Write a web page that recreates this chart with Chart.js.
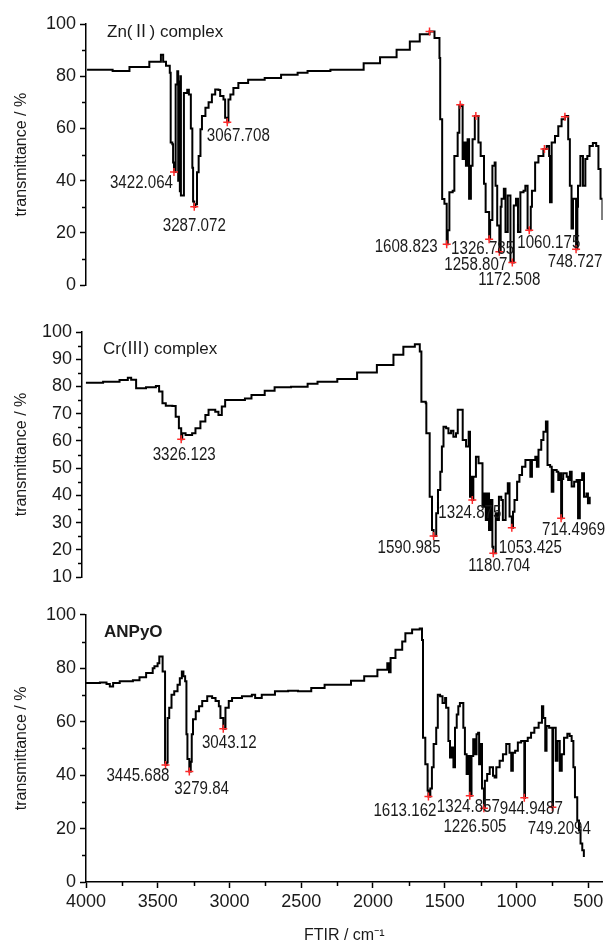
<!DOCTYPE html>
<html>
<head>
<meta charset="utf-8">
<script src="https://cdn.jsdelivr.net/npm/chart.js@4.4.1/dist/chart.umd.min.js"></script>
<style>
  body { margin: 0; background: #fff; }
  .panel { position: absolute; left: 0; }
</style>
</head>
<body>
<canvas id="znChart" class="panel" width="608" height="300" style="top:0"></canvas>
<canvas id="crChart" class="panel" width="608" height="300" style="top:300px"></canvas>
<canvas id="anpyoChart" class="panel" width="608" height="347" style="top:600px"></canvas>
<script>
// ---- Zn(II) complex spectrum (wavenumber cm-1, transmittance %) ----
const znWavenumber = [4000, 3915, 3830, 3718, 3586, 3509, 3494, 3475, 3450, 3444, 3433, 3428, 3422.064, 3411, 3400, 3394, 3389, 3383, 3379, 3376, 3367, 3356, 3334, 3323, 3310, 3300, 3295, 3287.072, 3280, 3269, 3258, 3246, 3236, 3213, 3192, 3170, 3148, 3126, 3115, 3093, 3082, 3067.708, 3060, 3047, 3027, 2994, 2929, 2819, 2710, 2600, 2534, 2382, 2161, 2052, 1942, 1854, 1788, 1723, 1690, 1657, 1652, 1639, 1624, 1608.823, 1602, 1591, 1569, 1558, 1536, 1525, 1519, 1510, 1503, 1493, 1481, 1470, 1460, 1448, 1437, 1422, 1404, 1398, 1383, 1361, 1350, 1326.785, 1320, 1305, 1290, 1284, 1273, 1258.807, 1250, 1244, 1229, 1218, 1203, 1185, 1172.508, 1163, 1148, 1135, 1119, 1098, 1086, 1071, 1060.175, 1050, 1042, 1021, 999, 966, 944, 928, 922, 911, 889, 867, 845, 823, 819, 801, 790, 779, 769, 748.727, 740, 736, 720, 703, 687, 674, 659, 637, 615, 600, 586, 573];
const znTransmittance = [82.5, 82.5, 82, 83.5, 85.5, 88.2, 85.5, 84, 81.3, 54.6, 54, 47, 43.3, 76.8, 81.9, 40, 78, 36, 80, 34.3, 34.3, 73.6, 74.8, 73, 60, 45, 32, 30.0, 31, 43.2, 49.5, 59.7, 64.8, 67.9, 70, 73, 74.9, 74.7, 72.4, 71.1, 64.1, 62.4, 71.1, 73, 75.5, 77.4, 78.7, 79.3, 80.6, 81.3, 82, 82.5, 85, 87.3, 90.1, 93.3, 96.1, 97.1, 94.6, 87, 63.5, 33, 31.2, 15.7, 21, 35.6, 36.2, 49.5, 58.4, 68.6, 69.1, 68.6, 48.3, 54.6, 45.7, 55.9, 33.1, 45.7, 55.9, 64.8, 64.8, 54.6, 49.5, 38.8, 28, 17.6, 25, 45.7, 47, 38.1, 22.9, 12.8, 30, 33.1, 36.9, 20.4, 34.3, 9, 8.7, 30.5, 33.1, 20.4, 35.6, 36.2, 38.1, 21.7, 21.0, 30, 36.2, 47, 49.5, 52.1, 53.3, 49.5, 31.8, 54.6, 57.1, 60.9, 63.5, 64.5, 64.8, 55.9, 38.1, 21.7, 33.1, 13.8, 30, 38.1, 49.5, 38.1, 48.3, 49.5, 53.3, 54.4, 53.3, 44.5, 33.1, 25];
const znPeakLabels = ['3422.064', '3287.072', '3067.708', '1608.823', '1326.785', '1258.807', '1172.508', '1060.175', '748.727'];
const znPeakT = [43.3, 30.0, 62.4, 15.7, 17.6, 12.8, 8.7, 21.0, 13.8];
const znBandWavenumber = [1723, 1519, 1415, 959, 823];
const znBandT = [97.1, 69.1, 64.8, 52.1, 64.5];

// ---- Cr(III) complex spectrum ----
const crWavenumber = [3981, 3863, 3750, 3693, 3670, 3636, 3568, 3500, 3478, 3455, 3432, 3387, 3364, 3342, 3326.123, 3319, 3296, 3251, 3228, 3194, 3160, 3138, 3092, 3070, 3047, 3024, 2933, 2888, 2843, 2752, 2684, 2571, 2457, 2389, 2253, 2117, 1981, 1867, 1799, 1720, 1686, 1675, 1645, 1641, 1618, 1602, 1590.985, 1573, 1561, 1545, 1534, 1523, 1505, 1489, 1471, 1455, 1437, 1425, 1402, 1391, 1368, 1350, 1341, 1328, 1324.875, 1318, 1300, 1282, 1266, 1255, 1244, 1232, 1221, 1210, 1198, 1187, 1180.704, 1164, 1153, 1142, 1126, 1115, 1096, 1081, 1069, 1053.425, 1045, 1035, 1017, 1001, 983, 960, 938, 926, 915, 892, 881, 870, 851, 836, 819, 808, 790, 779, 768, 745, 734, 722, 714.4969, 708, 700, 676, 666, 654, 642, 625, 608, 598, 586, 570, 557, 540, 530, 518];
const crTransmittance = [81.4, 81.7, 82.4, 83.2, 82.5, 79.3, 79.7, 80.2, 78.1, 73.8, 72.9, 72.8, 68.9, 64.6, 60.6, 62.8, 62.2, 62.8, 64.6, 67.1, 69.5, 71.4, 70.7, 69.5, 72.6, 75, 75, 75.6, 76.9, 78.4, 79.7, 79.9, 81, 81.7, 82.7, 85.1, 87.9, 91.6, 94.6, 95.5, 92.8, 74.4, 73.8, 62.8, 39.5, 27.3, 25.1, 33.4, 42, 48.7, 57.9, 65.2, 64.6, 62.8, 63.7, 61.5, 62.8, 71.4, 71.4, 60.3, 57.9, 63.4, 39.5, 46.8, 38.3, 46.8, 54.2, 51.8, 51.8, 35.8, 40.7, 30.9, 40.7, 27.3, 38.3, 21.1, 18.7, 33.4, 30.9, 39.5, 38.3, 30.9, 40.7, 44.4, 32.2, 28.1, 34, 38.3, 45, 47.5, 50.5, 53, 53, 46.8, 53, 54.2, 50.5, 56.7, 60.3, 63.4, 67.1, 51.1, 50.5, 41.3, 49.3, 48.7, 45.6, 48.1, 31.6, 46, 48.1, 46.8, 45.6, 48.7, 43.2, 45, 45.6, 31.6, 45.6, 48.1, 39.5, 40.7, 37.1, 39.5];
const crPeakLabels = ['3326.123', '1590.985', '1324.875', '1180.704', '1053.425', '714.4969'];
const crPeakT = [60.6, 25.1, 38.3, 18.7, 28.1, 31.6];

// ---- ANPyO spectrum ----
const anpyoWavenumber = [4000, 3903, 3857, 3834, 3811, 3765, 3673, 3627, 3581, 3535, 3523, 3501, 3489, 3470, 3466, 3449, 3445.688, 3438, 3431, 3420, 3404, 3385, 3362, 3346, 3332, 3321, 3309, 3300, 3293, 3279.84, 3270, 3263, 3254, 3235, 3212, 3190, 3155, 3121, 3097, 3074, 3063, 3043.12, 3028, 3005, 2982, 2913, 2844, 2821, 2775, 2683, 2591, 2522, 2430, 2337, 2153, 2061, 1969, 1900, 1888, 1877, 1843, 1796, 1774, 1727, 1674, 1658, 1651, 1635, 1619, 1613.162, 1600, 1589, 1577, 1559, 1548, 1532, 1515, 1497, 1490, 1474, 1463, 1451, 1439, 1428, 1416, 1405, 1394, 1370, 1359, 1347, 1336, 1324.857, 1313, 1301, 1290, 1278, 1267, 1260, 1251, 1240, 1226.505, 1220, 1204, 1186, 1163, 1152, 1140, 1117, 1094, 1071, 1048, 1036, 1025, 1009, 990, 967, 944.9487, 940, 921, 898, 875, 845, 822, 813, 799, 790, 772, 753, 749.2094, 745, 730, 726, 714, 698, 684, 668, 645, 629, 615, 603, 592, 576, 564, 553, 541, 530];
const anpyoTransmittance = [74.5, 74.7, 74.1, 73.2, 74.5, 75.1, 75.5, 76.6, 78.2, 80, 80.7, 81.9, 84.4, 84.4, 78.8, 44.7, 43.8, 44.7, 61.4, 65.2, 70.1, 71.4, 73.8, 76.3, 78.8, 77, 75.1, 55.3, 46, 41.4, 45, 55.3, 60.9, 63.9, 65.8, 67.7, 69.5, 68.9, 67.7, 65.8, 61.4, 57.4, 65.2, 67.7, 68.9, 69.5, 70.1, 68.9, 70.1, 71.4, 71.6, 71.4, 72.6, 73.8, 75.3, 77, 79.4, 81.9, 78.5, 83.8, 86.9, 90, 93.1, 94.5, 94.9, 90.6, 54, 44.1, 34.2, 32, 35, 42.9, 51.6, 57.7, 70.1, 69.5, 67, 68.9, 65.2, 52.8, 46.6, 50.3, 42.9, 57.7, 62.7, 65.8, 67, 57.7, 47.8, 40.4, 47.2, 32.3, 47.2, 53.4, 47.8, 55.3, 55.9, 44.1, 51.6, 35, 27.6, 37.9, 40.4, 42.9, 39.8, 39.1, 42.9, 45.4, 47.8, 51.6, 48.4, 41.6, 48.4, 49.1, 52.2, 52.8, 31.5, 52.8, 54, 55.9, 57.7, 59.6, 65.8, 61.4, 49.1, 58.4, 57.7, 57.7, 28, 57.7, 57.7, 45.4, 52.8, 41.6, 47.8, 54, 55.5, 54.6, 52.8, 42.9, 31.7, 23, 19.3, 14.4, 11.9, 9.4];
const anpyoPeakLabels = ['3445.688', '3279.84', '3043.12', '1613.162', '1324.857', '1226.505', '944.9487', '749.2094'];
const anpyoPeakT = [43.8, 41.4, 57.4, 32.0, 32.3, 27.6, 31.5, 28.0];

// labelled wavenumber ticks on the shared bottom axis
const xTickValues = [4000, 3500, 3000, 2500, 2000, 1500, 1000, 500];

const FAMILY = '"Liberation Sans", Arial, "Noto Sans CJK SC", sans-serif';
Chart.defaults.font.family = FAMILY;
Chart.defaults.color = '#1a1a1a';

const toPoints = (xs, ys) => xs.map((x, i) => ({ x, y: ys[i] }));

// short ticks between the labelled ones, plus the peak numbers and the panel name
const panelDecor = {
  id: 'panelDecor',
  afterDraw(chart, args, opts) {
    const { ctx, chartArea, scales } = chart;
    ctx.save();
    ctx.strokeStyle = '#000';
    ctx.lineWidth = 1.5;
    const y = scales.y;
    for (let v = opts.yMinorStart; v < y.max; v += opts.yMinorStep) {
      const py = Math.round(y.getPixelForValue(v)) + 0.5;
      ctx.beginPath();
      ctx.moveTo(chartArea.left - 4, py);
      ctx.lineTo(chartArea.left, py);
      ctx.stroke();
    }
    if (opts.xMinor) {
      const x = scales.x;
      for (let v = 3750; v > x.min; v -= 500) {
        const px = Math.round(x.getPixelForValue(v)) + 0.5;
        ctx.beginPath();
        ctx.moveTo(px, chartArea.bottom);
        ctx.lineTo(px, chartArea.bottom + 4);
        ctx.stroke();
      }
    }

    // peak numbers are set in a condensed face, so squeeze them horizontally
    ctx.fillStyle = '#1a1a1a';
    ctx.font = '18px ' + FAMILY;
    ctx.textBaseline = 'middle';
    opts.labels.forEach((text, i) => {
      const [dx, dy, align] = opts.placement[i];
      const px = scales.x.getPixelForValue(parseFloat(text));
      const py = scales.y.getPixelForValue(opts.values[i]);
      ctx.save();
      ctx.translate(px + dx, py + dy);
      ctx.scale(0.84, 1);
      ctx.textAlign = align;
      ctx.fillText(text, 0, 0);
      ctx.restore();
    });

    ctx.font = (opts.bold ? 'bold ' : '') + '17px ' + FAMILY;
    ctx.textAlign = 'left';
    ctx.textBaseline = 'alphabetic';
    ctx.fillText(opts.title, chartArea.left + opts.titleOffset[0], chartArea.top + opts.titleOffset[1]);
    ctx.restore();
  }
};

function makePanel(id, cfg) {
  const peakX = cfg.labels.map(parseFloat).concat(cfg.bandX || []);
  const peakY = cfg.values.concat(cfg.bandY || []);
  return new Chart(document.getElementById(id), {
    type: 'line',
    data: {
      datasets: [
        {
          data: toPoints(peakX, peakY),
          showLine: false,
          pointStyle: 'cross',
          pointRadius: 4,
          pointBorderColor: '#ff2a2a',
          pointBorderWidth: 1.5,
          order: 0
        },
        {
          data: toPoints(cfg.wavenumber, cfg.transmittance),
          borderColor: '#000',
          borderWidth: 2,
          pointRadius: 0,
          stepped: true,
          order: 1
        }
      ]
    },
    options: {
      responsive: false,
      animation: false,
      layout: { padding: cfg.padding },
      plugins: {
        legend: { display: false },
        tooltip: { enabled: false },
        panelDecor: {
          labels: cfg.labels,
          values: cfg.values,
          placement: cfg.placement,
          title: cfg.title,
          bold: cfg.bold,
          titleOffset: cfg.titleOffset,
          yMinorStart: cfg.yMin + cfg.yStep / 2,
          yMinorStep: cfg.yStep,
          xMinor: cfg.showX
        }
      },
      scales: {
        x: {
          type: 'linear',
          reverse: true,
          min: cfg.xMin,
          max: cfg.xMax,
          display: cfg.showX,
          grid: { drawOnChartArea: false, tickLength: 6, tickColor: '#000', tickWidth: 1.5 },
          border: { color: '#000', width: 1.5 },
          ticks: { padding: 3, font: { size: 18 }, maxRotation: 0, callback: (v) => String(v) },
          afterBuildTicks: (scale) => { scale.ticks = xTickValues.map((value) => ({ value })); },
          title: {
            display: cfg.showX,
            text: 'FTIR / cm\u207B\u00B9',
            font: { size: 16 },
            padding: { top: 0, bottom: 2 }
          },
          afterFit: (scale) => { if (cfg.showX) scale.height = 65; }
        },
        y: {
          min: cfg.yMin,
          max: cfg.yMax,
          grid: { drawOnChartArea: false, tickLength: 6, tickColor: '#000', tickWidth: 1.5 },
          border: { color: '#000', width: 1.5 },
          ticks: { stepSize: cfg.yStep, padding: 4, font: { size: 18 }, callback: (v) => String(v) },
          title: {
            display: true,
            text: 'transmittance / %',
            font: { size: 16 },
            padding: { top: 12, bottom: 0 }
          },
          afterFit: (scale) => { scale.width = cfg.axisLeft; }
        }
      }
    },
    plugins: [panelDecor]
  });
}

makePanel('znChart', {
  wavenumber: znWavenumber, transmittance: znTransmittance,
  labels: znPeakLabels, values: znPeakT,
  bandX: znBandWavenumber, bandY: znBandT,
  placement: [[-1, 11, 'right'], [0, 19, 'center'], [11, 14, 'center'], [-9, 3, 'right'], [-38, 10, 'left'],
              [8, 13, 'right'], [-3, 18, 'center'], [-12, 13, 'left'], [-1, 13, 'center']],
  title: 'Zn(\u2161) complex', bold: false, titleOffset: [21, 13],
  xMin: 573, xMax: 4007, yMin: 0, yMax: 100, yStep: 20,
  axisLeft: 86, showX: false,
  padding: { top: 24, bottom: 13, right: 0, left: 0 }
});

makePanel('crChart', {
  wavenumber: crWavenumber, transmittance: crTransmittance,
  labels: crPeakLabels, values: crPeakT,
  placement: [[3, 16, 'center'], [7, 12, 'right'], [-34, 13, 'left'], [6, 13, 'center'], [-13, 20, 'left'], [-19, 12, 'left']],
  title: 'Cr(\u2162) complex', bold: false, titleOffset: [21, 22],
  xMin: 430, xMax: 4008, yMin: 10, yMax: 100, yStep: 10,
  axisLeft: 82, showX: false,
  padding: { top: 32, bottom: 23, right: 0, left: 0 }
});

makePanel('anpyoChart', {
  wavenumber: anpyoWavenumber, transmittance: anpyoTransmittance,
  labels: anpyoPeakLabels, values: anpyoPeakT,
  placement: [[4, 11, 'right'], [-15, 18, 'left'], [6, 14, 'center'], [8, 15, 'right'], [-33, 11, 'left'],
              [-9, 19, 'center'], [7, 11, 'center'], [7, 22, 'center']],
  title: 'ANPyO', bold: true, titleOffset: [18, 22],
  xMin: 400, xMax: 4000, yMin: 0, yMax: 100, yStep: 20,
  axisLeft: 86, showX: true,
  padding: { top: 13, bottom: 0, right: 1, left: 0 }
});
</script>
</body>
</html>
